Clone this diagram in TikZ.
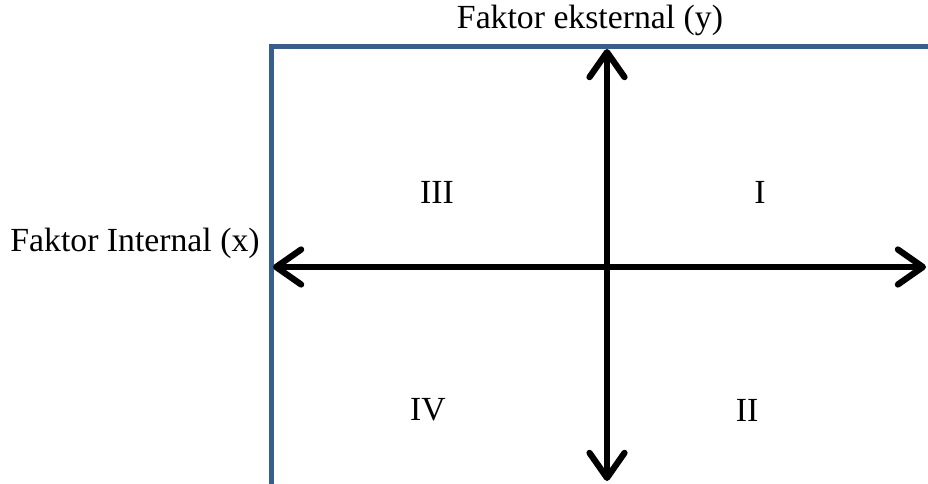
\documentclass[tikz,border=0pt]{standalone}
\usepackage{fontspec}
\setmainfont{Liberation Serif}
\definecolor{framblue}{RGB}{58,94,140}
\usetikzlibrary{arrows.meta,positioning}

\begin{document}
\begin{tikzpicture}[x=0.02cm,y=-0.02cm,
  axislabel/.style={font=\fontsize{19.2}{23}\selectfont,inner sep=0pt},
  quadlabel/.style={font=\fontsize{19.2}{23}\selectfont,inner sep=0pt},
  axisarrow/.style={line width=0.125cm,{Straight Barb[length=0.5cm,width=0.7cm,round]}-{Straight Barb[length=0.5cm,width=0.7cm,round]}}
]
  \useasboundingbox (0,0) rectangle (928,483);
  % frame
  \draw[framblue,line width=0.1cm] (271,500) -- (271,47) -- (945,47);
  % ends of the two axes
  \coordinate (xleft) at (273,267);
  \coordinate (xright) at (926,267);
  \coordinate (ytop) at (607,49);
  \coordinate (ybottom) at (607,481);
  \draw[axisarrow] (xleft) -- (xright);
  \draw[axisarrow] (ybottom) -- (ytop);
  % labels
  \node[axislabel] (ylabel) at (590,20) {Faktor eksternal (y)};
  \node[axislabel] (xlabel) at (135,243) {Faktor Internal (x)};
  \node[quadlabel] (q3) at (437,192) {III};
  \node[quadlabel] (q1) at (760,192) {I};
  \node[quadlabel] (q4) at (428,410) {IV};
  \node[quadlabel] (q2) at (747,410) {II};
\end{tikzpicture}
\end{document}
